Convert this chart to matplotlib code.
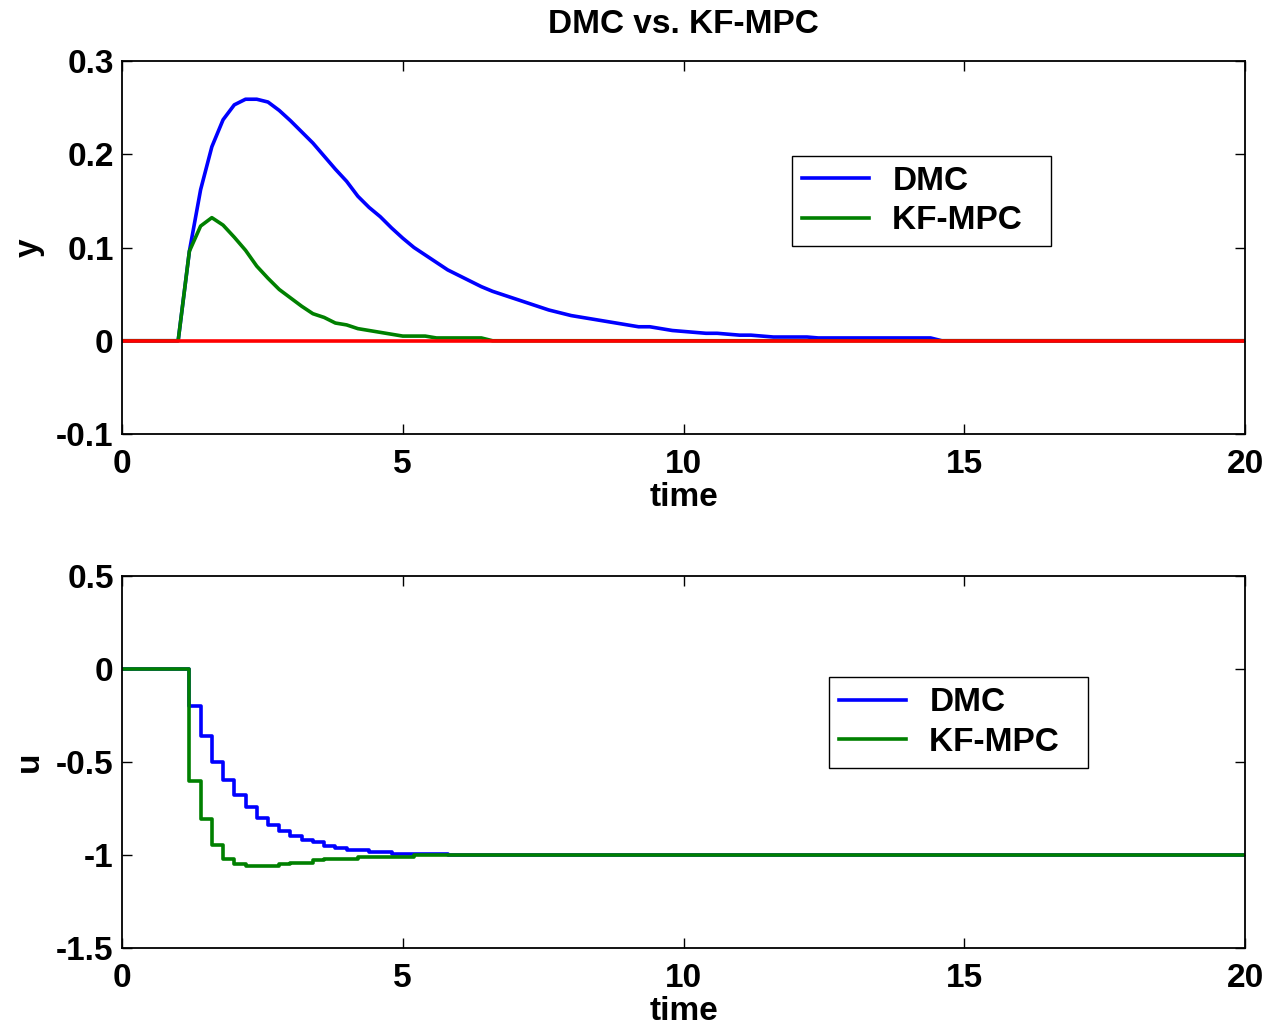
import numpy as np
import matplotlib
matplotlib.use("Agg")
import matplotlib.pyplot as plt

# ---------------------------------------------------------------------------
# Data (sample time 0.2)
# ---------------------------------------------------------------------------

# output y, DMC
t_y_dmc = [0.0, 1.0, 1.2, 1.4, 1.6, 1.8, 2.0, 2.2, 2.4, 2.6, 2.8, 3.0, 3.2, 3.4,
           3.6, 3.8, 4.0, 4.2, 4.4, 4.6, 4.8, 5.0, 5.2, 5.4, 5.6, 5.8, 6.0, 6.2,
           6.4, 6.6, 6.8, 7.0, 7.2, 7.4, 7.6, 7.8, 8.0, 8.2, 8.4, 8.6, 8.8, 9.0,
           9.2, 9.4, 9.6, 9.8, 10.0, 10.2, 10.4, 10.6, 10.8, 11.0, 11.2, 11.4,
           11.6, 11.8, 12.0, 12.2, 12.4, 12.6, 13.0, 13.4, 13.8, 14.2, 14.4,
           14.6, 20.0]
y_dmc = [0.0, 0.0, 0.096, 0.162, 0.208, 0.237, 0.253, 0.259, 0.259, 0.256,
         0.247, 0.236, 0.224, 0.212, 0.198, 0.184, 0.171, 0.155, 0.143, 0.133,
         0.121, 0.110, 0.100, 0.092, 0.084, 0.076, 0.070, 0.064, 0.058, 0.053,
         0.049, 0.045, 0.041, 0.037, 0.033, 0.030, 0.027, 0.025, 0.023, 0.021,
         0.019, 0.017, 0.015, 0.015, 0.013, 0.011, 0.010, 0.009, 0.008, 0.008,
         0.007, 0.006, 0.006, 0.005, 0.004, 0.004, 0.004, 0.004, 0.003, 0.003,
         0.003, 0.003, 0.003, 0.003, 0.003, 0.0, 0.0]

# output y, KF-MPC
t_y_kf = [0.0, 1.0, 1.2, 1.4, 1.6, 1.8, 2.0, 2.2, 2.4, 2.6, 2.8, 3.0, 3.2, 3.4,
          3.6, 3.8, 4.0, 4.2, 4.4, 4.6, 4.8, 5.0, 5.2, 5.4, 5.6, 5.8, 6.0, 6.2,
          6.4, 6.6, 20.0]
y_kf = [0.0, 0.0, 0.096, 0.123, 0.132, 0.124, 0.111, 0.097, 0.080, 0.067,
        0.055, 0.046, 0.037, 0.029, 0.025, 0.019, 0.017, 0.013, 0.011, 0.009,
        0.007, 0.005, 0.005, 0.005, 0.003, 0.003, 0.003, 0.003, 0.003, 0.0, 0.0]

# setpoint
t_ref = [0.0, 20.0]
y_ref = [0.0, 0.0]

# input u, DMC (zero-order hold)
t_u_dmc = [0.0, 1.2, 1.4, 1.6, 1.8, 2.0, 2.2, 2.4, 2.6, 2.8, 3.0, 3.2, 3.4, 3.6,
           3.8, 4.0, 4.4, 4.8, 5.8, 20.0]
u_dmc = [0.0, -0.20, -0.36, -0.50, -0.595, -0.68, -0.74, -0.80, -0.84, -0.872,
         -0.898, -0.918, -0.93, -0.952, -0.961, -0.973, -0.984, -0.993, -1.0,
         -1.0]

# input u, KF-MPC
t_u_kf = [0.0, 1.2, 1.4, 1.6, 1.8, 2.0, 2.2, 2.8, 3.0, 3.4, 3.6, 4.2, 5.2, 20.0]
u_kf = [0.0, -0.604, -0.806, -0.948, -1.02, -1.047, -1.059, -1.05, -1.041,
        -1.028, -1.02, -1.009, -1.0, -1.0]

labels = ["DMC", "KF-MPC"]

# ---------------------------------------------------------------------------

FS = 24
plt.rcParams['font.family'] = ['Liberation Sans', 'DejaVu Sans']
plt.rcParams['font.weight'] = 'bold'
plt.rcParams['font.size'] = FS

fig = plt.figure(figsize=(12.70, 10.33), dpi=100)
ax1 = fig.add_axes([122/1270, 1-434/1033, 1123/1270, 373/1033])
ax2 = fig.add_axes([122/1270, 1-948/1033, 1123/1270, 372/1033])

lw = 2.6
ax1.plot(t_y_dmc, y_dmc, color='#0000ff', lw=lw, label=labels[0])
ax1.plot(t_y_kf, y_kf, color='#008000', lw=lw, label=labels[1] + "  ")
ax1.plot(t_ref, y_ref, color='#ff0000', lw=lw)

ax2.step(t_u_dmc, u_dmc, where='post', color='#0000ff', lw=lw, label=labels[0])
ax2.step(t_u_kf, u_kf, where='post', color='#008000', lw=lw,
         label=labels[1] + "  ")

ax1.set_xlim(0, 20)
ax1.set_ylim(-0.1, 0.3)
ax1.set_yticks([-0.1, 0, 0.1, 0.2, 0.3])
ax1.set_yticklabels(["-0.1", "0", "0.1", "0.2", "0.3"])
ax2.set_xlim(0, 20)
ax2.set_ylim(-1.5, 0.5)
ax2.set_yticks([-1.5, -1, -0.5, 0, 0.5])
ax2.set_yticklabels(["-1.5", "-1", "-0.5", "0", "0.5"])

for ax in (ax1, ax2):
    ax.set_xticks([0, 5, 10, 15, 20])
    ax.tick_params(direction='in', top=True, right=True, length=7,
                   width=1, labelsize=FS)
    ax.tick_params(axis='x', pad=11)
    ax.tick_params(axis='y', pad=6)
    for s in ax.spines.values():
        s.set_linewidth(1.3)
    ax.set_xlabel("time", fontweight='bold', labelpad=1)

ax1.set_ylabel("y", fontweight='bold', labelpad=8)
ax2.set_ylabel("u", fontweight='bold', labelpad=8)
ax1.set_title("DMC vs. KF-MPC", fontweight='bold', fontsize=FS, pad=20)

leg_kw = dict(frameon=True, fancybox=False, edgecolor='black', framealpha=1,
              handlelength=2.0, handletextpad=0.7, borderpad=0.3,
              labelspacing=0.25, borderaxespad=0, fontsize=FS)
lg1 = ax1.legend(loc='upper left', bbox_to_anchor=(0.597, 0.745), **leg_kw)
lg2 = ax2.legend(loc='upper left', bbox_to_anchor=(0.630, 0.728), **leg_kw)
for lg in (lg1, lg2):
    lg.get_frame().set_linewidth(1.0)

plt.savefig("out.png", dpi=100)
